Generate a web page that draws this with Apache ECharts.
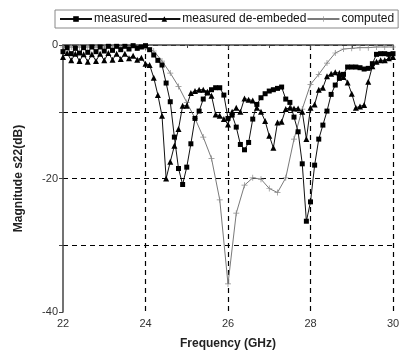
<!DOCTYPE html>
<html>
<head>
<meta charset="utf-8">
<script src="https://cdn.jsdelivr.net/npm/echarts@6/dist/echarts.min.js"></script>
<style>
html,body{margin:0;padding:0;background:#fff;}
#chart{width:404px;height:355px;}
</style>
</head>
<body>
<div id="chart"></div>
<script>
// Frequencies (GHz) for the measured series
var measuredFreq = [22.0,22.1,22.2,22.3,22.4,22.5,22.6,22.7,22.8,22.9,
  23.0,23.1,23.2,23.3,23.4,23.5,23.6,23.7,23.8,23.9,
  24.0,24.1,24.2,24.3,24.4,24.5,24.6,24.7,24.8,24.9,
  25.0,25.1,25.2,25.3,25.4,25.5,25.6,25.7,25.8,25.9,
  26.0,26.1,26.2,26.3,26.4,26.5,26.6,26.7,26.8,26.9,
  27.0,27.1,27.2,27.3,27.4,27.5,27.6,27.7,27.8,27.9,
  28.0,28.1,28.2,28.3,28.4,28.5,28.6,28.7,28.8,28.9,
  29.0,29.1,29.2,29.3,29.4,29.5,29.6,29.7,29.8,29.9,30.0];

// measured (squares), dB
var measured = [-1.0,-0.4,-1.3,-0.5,-1.2,-0.4,-1.1,-0.3,-1.0,-0.3,
  -0.9,-0.2,-0.8,-0.2,-0.7,-0.2,-0.6,-0.1,-0.5,-0.3,
  -0.1,-0.7,-1.5,-2.3,-3.0,-5.7,-8.5,-13.8,-18.5,-20.9,
  -18.3,-14.8,-11.0,-9.9,-8.1,-7.2,-6.7,-6.4,-6.4,-7.5,
  -11.0,-10.5,-12.3,-14.9,-15.7,-14.6,-11.1,-8.9,-7.9,-7.3,
  -6.9,-6.7,-6.5,-6.3,-8.1,-8.6,-10.8,-13.0,-17.8,-26.4,
  -23.5,-18.0,-14.1,-12.0,-9.9,-7.4,-6.0,-5.0,-4.4,-3.3,
  -3.3,-3.3,-3.4,-3.6,-3.5,-2.8,-1.4,-1.3,-1.3,-1.4,-1.3];

// measured de-embeded (triangles), dB
var deembeded = [-1.8,-1.2,-2.3,-1.3,-2.4,-1.4,-2.5,-1.4,-2.4,-1.3,
  -2.3,-1.2,-2.2,-1.3,-2.1,-1.3,-2.0,-1.6,-2.2,-1.9,
  -2.8,-3.0,-4.9,-7.5,-10.6,-20.0,-17.5,-15.1,-12.6,-9.1,
  -9.1,-7.2,-6.9,-6.7,-6.7,-7.0,-7.6,-10.4,-10.6,-11.1,
  -11.9,-10.0,-9.4,-10.0,-8.0,-8.2,-8.3,-9.4,-10.0,-11.4,
  -13.6,-15.4,-11.6,-11.5,-9.6,-9.4,-9.5,-9.5,-10.0,-14.1,
  -9.4,-8.9,-6.7,-6.4,-4.7,-4.3,-4.1,-4.2,-4.8,-5.6,
  -7.3,-9.4,-9.2,-9.0,-5.5,-3.2,-2.5,-2.3,-2.3,-2.0,-1.8];

// Frequencies (GHz) for the computed series
var computedFreq = [22.0,22.2,22.4,22.6,22.8,23.0,23.2,23.4,23.6,23.8,
  24.0,24.2,24.4,24.6,24.8,25.0,25.2,25.4,25.6,25.8,
  26.0,26.2,26.4,26.6,26.8,27.0,27.2,27.4,27.6,27.8,
  28.0,28.2,28.4,28.6,28.8,29.0,29.2,29.4,29.6,29.8,30.0];

// computed, dB
var computed = [-0.3,-0.3,-0.3,-0.3,-0.3,-0.3,-0.3,-0.3,-0.4,-0.4,
  -0.5,-0.9,-2.4,-4.2,-6.2,-8.6,-11.0,-13.8,-17.0,-23.2,
  -35.8,-25.2,-21.0,-19.9,-20.1,-21.5,-22.1,-19.9,-14.1,-9.6,
  -5.9,-4.4,-2.7,-1.2,-0.6,-0.5,-0.4,-0.4,-0.3,-0.3,-0.3];

var seriesNames = ['measured', 'measured de-embeded', 'computed'];
var yLabelValues = [0, -20, -40];

function pairs(xs, ys) {
  return xs.map(function (x, i) { return [x, ys[i]]; });
}

var FONT = 'Liberation Sans, Arial, sans-serif';
var chart = echarts.init(document.getElementById('chart'), null, {renderer: 'canvas'});

chart.setOption({
  backgroundColor: '#fff',
  animation: false,
  grid: {left: 63, right: 11, top: 45, bottom: 40, containLabel: false},
  legend: {
    data: seriesNames,
    orient: 'horizontal',
    left: 55,
    top: 10,
    width: 345,
    padding: [3, 4, 3, 4],
    itemGap: 0,
    itemWidth: 32,
    itemHeight: 7,
    borderColor: '#888',
    borderWidth: 1,
    textStyle: {fontFamily: FONT, fontSize: 12, color: '#111', padding: [0, 0, 0, -3]}
  },
  xAxis: {
    type: 'value',
    min: 22, max: 30, interval: 2,
    name: 'Frequency (GHz)',
    nameLocation: 'middle',
    nameGap: 26,
    nameTextStyle: {fontFamily: FONT, fontSize: 12, fontWeight: 'bold', color: '#222'},
    axisLine: {lineStyle: {color: '#444', width: 1.5}},
    axisTick: {show: true, length: 4, lineStyle: {color: '#444'}},
    minorTick: {show: true, splitNumber: 2, length: 3, lineStyle: {color: '#444'}},
    axisLabel: {fontFamily: FONT, fontSize: 11, color: '#333', margin: 6},
    splitLine: {show: true, showMinLine: false, lineStyle: {color: '#000', type: [5, 4], width: 1.2}}
  },
  yAxis: {
    type: 'value',
    min: -40, max: 0, interval: 10,
    name: 'Magnitude s22(dB)',
    nameLocation: 'middle',
    nameGap: 38,
    nameTextStyle: {fontFamily: FONT, fontSize: 12, fontWeight: 'bold', color: '#222'},
    axisLine: {show: true, lineStyle: {color: '#444', width: 1.5}},
    axisTick: {show: true, length: 4, lineStyle: {color: '#444'}},
    axisLabel: {
      fontFamily: FONT, fontSize: 11, color: '#333', margin: 5,
      formatter: function (v) { return yLabelValues.indexOf(v) >= 0 ? String(v) : ''; }
    },
    splitLine: {show: true, showMinLine: false, lineStyle: {color: '#000', type: [5, 4], width: 1.2}}
  },
  series: [
    {
      name: seriesNames[2],
      type: 'line',
      data: pairs(computedFreq, computed),
      symbol: 'path://M4.4,0H5.6V4.4H10V5.6H5.6V10H4.4V5.6H0V4.4H4.4Z',
      symbolSize: 6,
      lineStyle: {color: '#7a7a7a', width: 1},
      itemStyle: {color: '#8a8a8a'},
      z: 2
    },
    {
      name: seriesNames[0],
      type: 'line',
      data: pairs(measuredFreq, measured),
      symbol: 'rect',
      symbolSize: 5,
      lineStyle: {color: '#111', width: 1},
      itemStyle: {color: '#000'},
      z: 3
    },
    {
      name: seriesNames[1],
      type: 'line',
      data: pairs(measuredFreq, deembeded),
      symbol: 'triangle',
      symbolSize: 6,
      lineStyle: {color: '#111', width: 1},
      itemStyle: {color: '#000'},
      z: 3
    }
  ]
});
</script>
</body>
</html>
